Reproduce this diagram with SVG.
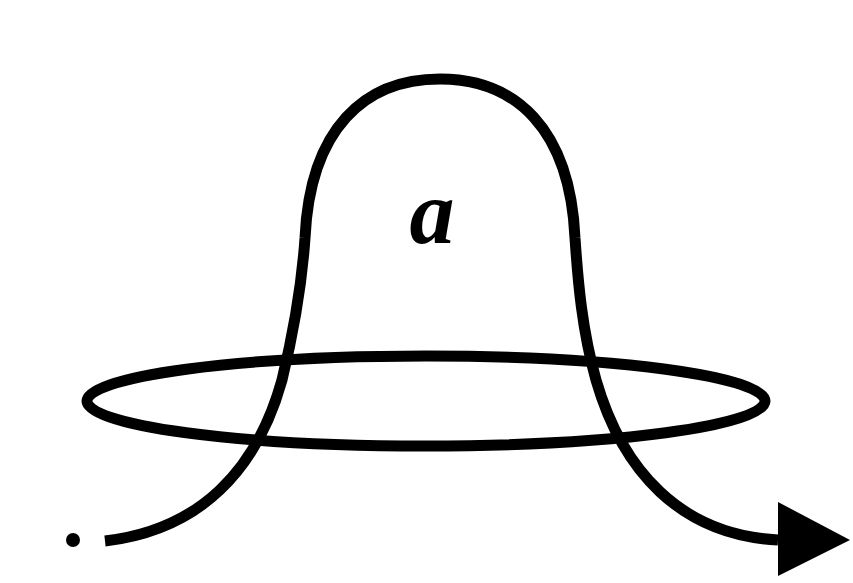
<svg xmlns="http://www.w3.org/2000/svg" width="853" height="583" viewBox="0 0 853 583">
<style>
.ln{fill:none;stroke:#000;stroke-width:11;stroke-linecap:butt}
.lbl{font-family:"Liberation Serif",serif;font-style:italic;font-weight:bold;font-size:90px;fill:#000}
</style>
<rect width="853" height="583" fill="#fff"/>
<g id="ring">
<ellipse class="ln" cx="426" cy="401" rx="339" ry="45"/>
</g>
<g id="connectors">
<path id="strand" class="ln" d="M105,541 C200,530 257,470 282,380 C296,322 302,282 305,238 C310,128 365,79 440,79 C515,79 570,128 575,238 C578,282 582,330 596,380 C622,470 680,535 778,540"/>
<polygon id="arrowhead" points="778,502 850,540 778,576" fill="#000"/>
</g>
<g id="start">
<circle cx="73" cy="540" r="7" fill="#000"/>
</g>
<g id="label">
<text class="lbl" x="432" y="243" text-anchor="middle">a</text>
</g>
</svg>
